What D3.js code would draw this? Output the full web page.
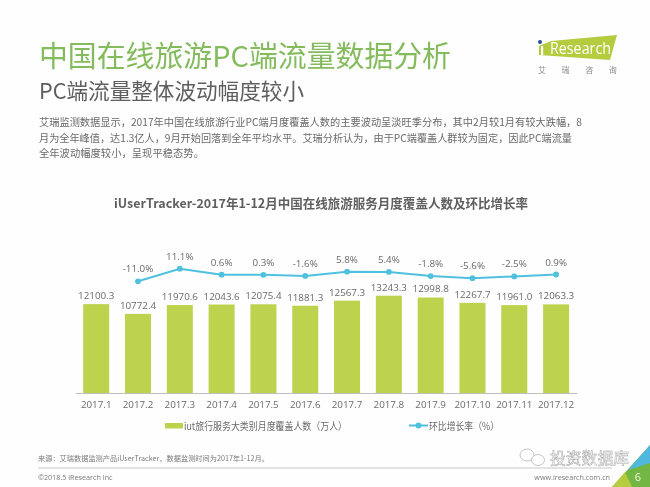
<!DOCTYPE html>
<html><head><meta charset="utf-8">
<script src="https://cdn.jsdelivr.net/npm/d3@7"></script>
<style>
html,body{margin:0;padding:0;background:#fff;}
svg{display:block;filter:blur(0.3px);}
text{font-family:"Noto Sans CJK SC","Open Sans",sans-serif;}
.num{font-family:"Open Sans","Noto Sans CJK SC",sans-serif;}
</style></head><body>
<svg id="c" width="650" height="487"></svg>
<script>
const months=["2017.1","2017.2","2017.3","2017.4","2017.5","2017.6","2017.7","2017.8","2017.9","2017.10","2017.11","2017.12"];
const coverage=[12100.3,10772.4,11970.6,12043.6,12075.4,11881.3,12567.3,13243.3,12998.8,12267.7,11961.0,12063.3];
const growth=[null,-11.0,11.1,0.6,0.3,-1.6,5.8,5.4,-1.8,-5.6,-2.5,0.9];
const bodyLines=[
 "艾瑞监测数据显示，2017年中国在线旅游行业PC端月度覆盖人数的主要波动呈淡旺季分布，其中2月较1月有较大跌幅，8",
 "月为全年峰值，达1.3亿人，9月开始回落到全年平均水平。艾瑞分析认为，由于PC端覆盖人群较为固定，因此PC端流量",
 "全年波动幅度较小，呈现平稳态势。"];
const titleText="中国在线旅游PC端流量数据分析";
const subtitleText="PC端流量整体波动幅度较小";
const chartTitle="iUserTracker-2017年1-12月中国在线旅游服务月度覆盖人数及环比增长率";
const legendBar="iut旅行服务大类别月度覆盖人数（万人）";
const legendLine="环比增长率（%）";
const sourceText="来源：艾瑞数据监测产品iUserTracker，数据监测时间为2017年1-12月。";

const svg=d3.select("#c");
const T=(x,y,s,size,fill,o={})=>svg.append("text").attr("x",x).attr("y",y).text(s)
  .attr("font-size",size).attr("fill",fill)
  .attr("text-anchor",o.anchor||"start").attr("font-weight",o.weight||400)
  .attr("class",o.cls||null).call(t=>{if(o.len)t.attr("textLength",o.len).attr("lengthAdjust","spacingAndGlyphs");});

svg.append("rect").attr("width",650).attr("height",487).attr("fill","#fefefe");

T(39,67,titleText,29,"#84bb5c",{len:412});
T(39,99,subtitleText,21.5,"#5f5f5f",{len:265});
bodyLines.forEach((l,i)=>T(39,[126,141.5,157][i],l,10.7,"#6a6a6a",{len:[543,533,165][i]}));

// logo
svg.append("polygon").attr("points","551,41 617,35 610,60 539,55 539,46").attr("fill","#b5cc3f");
svg.append("circle").attr("cx",540).attr("cy",42).attr("r",2).attr("fill","#2b4c8c");
svg.append("rect").attr("x",541).attr("y",46).attr("width",2.2).attr("height",9).attr("fill","#fff");
T(550,54,"Research",15.5,"#fff",{cls:"num",len:61});
["艾","瑞","咨","询"].forEach((c,i)=>T(542+i*23.6,72.5,c,8,"#8a8a8a",{anchor:"middle"}));

T(321,208,chartTitle,12.6,"#5f5f5f",{anchor:"middle",weight:700,len:414});

// scales
const x=d3.scaleBand().domain(months).range([75.3,577]).paddingInner(0.378).paddingOuter(0.189);
const y=d3.scaleLinear().domain([0,13243.3]).range([393,295.7]);
const yG=d3.scaleLinear().domain([-11,11.1]).range([281.3,268.7]);
const cx=m=>x(m)+x.bandwidth()/2;

svg.append("g").selectAll("rect").data(months).join("rect")
  .attr("x",d=>x(d)).attr("width",x.bandwidth())
  .attr("y",(d,i)=>y(coverage[i])).attr("height",(d,i)=>393-y(coverage[i]))
  .attr("fill","#bdd34e");

const axis=svg.append("g").attr("transform","translate(0,393)").call(d3.axisBottom(x).tickSize(0).tickPadding(8));
axis.select(".domain").attr("stroke","#bfbfbf").attr("stroke-width",1);
axis.selectAll("text").attr("font-size",9.8).attr("fill","#6a6a6a").attr("class","num");

svg.append("g").selectAll("text").data(months).join("text")
  .attr("x",d=>cx(d)).attr("y",(d,i)=>y(coverage[i])-5)
  .attr("text-anchor","middle").attr("font-size",9.8).attr("fill","#6a6a6a").attr("class","num")
  .text((d,i)=>coverage[i].toFixed(1));

const pts=months.map((m,i)=>({m,v:growth[i]})).filter(d=>d.v!==null);
const line=d3.line().x(d=>cx(d.m)).y(d=>yG(d.v));
svg.append("path").attr("d",line(pts)).attr("fill","none").attr("stroke","#4fc1de").attr("stroke-width",2);
svg.append("g").selectAll("circle").data(pts).join("circle")
  .attr("cx",d=>cx(d.m)).attr("cy",d=>yG(d.v)).attr("r",2.9).attr("fill","#4fc1de");
svg.append("g").selectAll("text").data(pts).join("text")
  .attr("x",d=>cx(d.m)).attr("y",d=>yG(d.v)-9)
  .attr("text-anchor","middle").attr("font-size",9.8).attr("fill","#6a6a6a").attr("class","num")
  .text(d=>d.v.toFixed(1)+"%");

// legend
svg.append("rect").attr("x",165).attr("y",423).attr("width",18).attr("height",5.5).attr("fill","#bdd34e");
T(184,430,legendBar,10.2,"#6a6a6a",{len:163});
svg.append("line").attr("x1",409).attr("x2",428).attr("y1",425.5).attr("y2",425.5).attr("stroke","#4fc1de").attr("stroke-width",2);
svg.append("circle").attr("cx",418.5).attr("cy",425.5).attr("r",2.9).attr("fill","#4fc1de");
T(429,430,legendLine,10.2,"#6a6a6a",{len:70});

// footer
T(38,461,sourceText,7.4,"#7a7a7a",{len:231});
svg.append("line").attr("x1",38).attr("x2",612).attr("y1",468).attr("y2",468).attr("stroke","#c8c8c8").attr("stroke-width",1);
T(38,480,"©2018.5 iResearch Inc",7.2,"#7a7a7a",{cls:"num"});
T(610,480,"www.iresearch.com.cn",7.2,"#7a7a7a",{anchor:"end",cls:"num"});

// corner
svg.append("polygon").attr("points","650,445 650,487 612,487").attr("fill","#74b643");
svg.append("polygon").attr("points","650,445 650,463 628,470").attr("fill","#4fb8e0");
svg.append("polygon").attr("points","612,487 625,472 632,487").attr("fill","#b5cc3f");
T(638,481,"6",11,"#f2f5e0",{anchor:"middle",cls:"num"});

// watermark
const w=svg.append("g").attr("fill","#fff").attr("stroke","#b5b5b5").attr("stroke-width",0.8);
w.append("ellipse").attr("cx",527).attr("cy",455).attr("rx",7).attr("ry",6);
w.append("ellipse").attr("cx",538).attr("cy",460).attr("rx",6.5).attr("ry",5.5);
T(550,464,"投资数据库",16,"#fff",{len:79}).attr("stroke","#a5a5a5").attr("stroke-width",0.5);
</script>
</body></html>
